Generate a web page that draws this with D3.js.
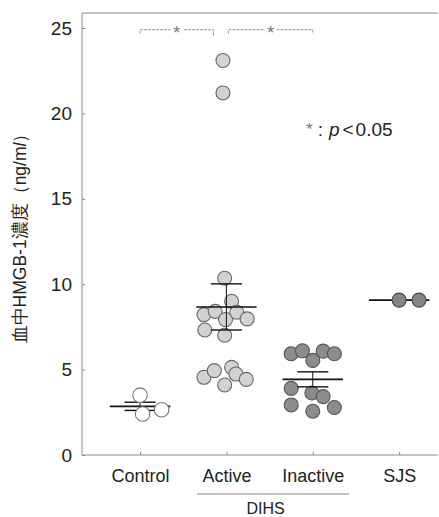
<!DOCTYPE html>
<html>
<head>
<meta charset="utf-8">
<script src="https://cdn.jsdelivr.net/npm/d3@7"></script>
<style>
  html, body { margin: 0; padding: 0; background: #fff; }
  svg { display: block; }
  text { font-family: "Liberation Sans", Arial, sans-serif; }
</style>
</head>
<body>
<div id="chart"></div>
<script>
// ---- data ----
const categories = ["Control", "Active", "Inactive", "SJS"];
const yTicks = [0, 5, 10, 15, 20, 25];
// each point: [jitter offset in category units, value ng/ml]
const controlPoints = [[0.00, 3.50], [0.03, 2.40], [0.25, 2.65]];
const activePoints = [
  [-0.04, 23.1], [-0.04, 21.2], [-0.02, 10.35], [0.06, 9.0],
  [-0.26, 8.22], [-0.13, 8.41], [-0.01, 7.93], [0.12, 8.36], [0.24, 7.97],
  [-0.25, 7.32], [-0.02, 7.01],
  [-0.26, 4.55], [-0.14, 4.94], [0.06, 5.13], [0.11, 4.74], [0.23, 4.43], [-0.02, 4.10]
];
const inactivePoints = [
  [-0.25, 5.93], [-0.12, 6.10], [0.00, 5.54], [0.12, 6.08], [0.25, 5.93],
  [-0.25, 3.90], [-0.01, 3.63], [0.12, 3.42],
  [-0.25, 2.93], [0.00, 2.56], [0.25, 2.78]
];
const sjsPoints = [[0.00, 9.07], [0.23, 9.07]];
const means = [2.85, 8.67, 4.43, 9.07];
const sems  = [0.24, 1.35, 0.44, 0];
const comparisons = [["Control", "Active"], ["Active", "Inactive"]];
const groupLabel = "DIHS";
const groupMembers = ["Active", "Inactive"];
const yTitle = "血中HMGB-1濃度（ng/m";
const note = "p";

// ---- layout ----
const W = 439, H = 517;
const svg = d3.select("#chart").append("svg").attr("width", W).attr("height", H);
const mL = 82, mR = 438, mT = 13, mB = 455;

const x = d3.scaleLinear().domain([-0.672, 3.45]).range([mL, mR]);
const y = d3.scaleLinear().domain([0, 25.88]).range([mB, mT]);
const catX = c => x(categories.indexOf(c));

const axisColor = "#8a8a8a";

// frame: top line
svg.append("line").attr("x1", mL).attr("x2", mR).attr("y1", mT).attr("y2", mT)
  .attr("stroke", axisColor).attr("stroke-width", 1);

// y axis
const yAxis = svg.append("g").attr("transform", `translate(${mL},0)`)
  .call(d3.axisLeft(y).tickValues(yTicks).tickSize(-3).tickPadding(10).tickFormat(d3.format("d")));
yAxis.select(".domain").attr("stroke", axisColor).attr("d", `M0,${mB}V${mT}`);
yAxis.selectAll(".tick line").attr("stroke", axisColor);
yAxis.selectAll(".tick text").attr("font-size", 19).attr("fill", "#222")
  .attr("font-family", "Liberation Sans, Arial, sans-serif");

// x axis
const xAxis = svg.append("g").attr("transform", `translate(0,${mB})`)
  .call(d3.axisBottom(x).tickValues(categories.map((c, i) => i)).tickSize(-3).tickPadding(14)
    .tickFormat(i => categories[i]));
xAxis.select(".domain").attr("stroke", axisColor).attr("d", `M${mL},0H${mR}`);
xAxis.selectAll(".tick line").attr("stroke", axisColor);
xAxis.selectAll(".tick text").attr("font-size", 18).attr("fill", "#222")
  .attr("font-family", "Liberation Sans, Arial, sans-serif");

// group underline + label
const unit = x(1) - x(0);
const gx0 = catX(groupMembers[0]) - 0.34 * unit;
const gx1 = catX(groupMembers[1]) + 0.42 * unit;
svg.append("line").attr("x1", gx0).attr("x2", gx1).attr("y1", 494).attr("y2", 494)
  .attr("stroke", "#888").attr("stroke-width", 1);
svg.append("text").attr("x", (catX(groupMembers[0]) + catX(groupMembers[1])) / 2 - 4).attr("y", 514)
  .attr("text-anchor", "middle").attr("font-size", 16).attr("fill", "#222").text(groupLabel);

// y title
const yt = svg.append("text")
  .attr("transform", `translate(26,${(mT + mB) / 2}) rotate(-90)`)
  .attr("text-anchor", "middle")
  .attr("font-family", "'Noto Sans CJK JP', sans-serif")
  .attr("font-size", 17.5).attr("fill", "#222");
yt.append("tspan").text(yTitle);
yt.append("tspan").attr("font-style", "italic").text("l");
yt.append("tspan").text("）");

// mean / SEM markers
function drawSummary(g, i) {
  const cx = x(i), m = means[i], s = sems[i];
  g.append("line").attr("x1", cx - 0.35 * unit).attr("x2", cx + 0.35 * unit)
    .attr("y1", y(m)).attr("y2", y(m)).attr("stroke", "#111").attr("stroke-width", 1.6);
  if (s > 0) {
    [m - s, m + s].forEach(v => {
      g.append("line").attr("x1", cx - 0.18 * unit).attr("x2", cx + 0.18 * unit)
        .attr("y1", y(v)).attr("y2", y(v)).attr("stroke", "#111").attr("stroke-width", 1.4);
    });
    g.append("line").attr("x1", cx).attr("x2", cx).attr("y1", y(m - s)).attr("y2", y(m + s))
      .attr("stroke", "#111").attr("stroke-width", 1);
  }
}
function drawPoints(g, pts, i, r, fill, stroke) {
  g.selectAll("circle.p" + i).data(pts).join("circle")
    .attr("class", "p" + i)
    .attr("cx", d => x(i + d[0])).attr("cy", d => y(d[1])).attr("r", r)
    .attr("fill", fill).attr("stroke", stroke).attr("stroke-width", 1.1);
}

const gC = svg.append("g");
drawSummary(gC, 0);
drawPoints(gC, controlPoints, 0, 7.3, "#fff", "#777");

const gA = svg.append("g");
drawPoints(gA, activePoints, 1, 7, "#d2d2d2", "#666");
drawSummary(gA, 1);

const gI = svg.append("g");
drawPoints(gI, inactivePoints, 2, 7, "#8c8c8c", "#555");
drawSummary(gI, 2);

const gS = svg.append("g");
drawSummary(gS, 3);
drawPoints(gS, sjsPoints, 3, 7, "#858585", "#444");

// significance brackets
const bracketY = y(24.9);
comparisons.forEach((pair, k) => {
  const xa = catX(pair[0]) + (k === 0 ? 0 : 2);
  const xb = catX(pair[1]) - (k === 0 ? 13 : 0);
  const g = svg.append("g").attr("stroke", "#8a8a8a").attr("stroke-width", 0.9).attr("fill", "none")
    .attr("stroke-dasharray", "3,1");
  g.append("path").attr("d", `M${xa},${bracketY + 4}V${bracketY}H${xb}V${bracketY + (k === 0 ? 6 : 4)}`);
  svg.append("rect").attr("x", (xa + xb) / 2 - 6).attr("y", bracketY - 5).attr("width", 12).attr("height", 10).attr("fill", "#fff");
  svg.append("text").attr("x", (xa + xb) / 2).attr("y", bracketY + 9)
    .attr("text-anchor", "middle").attr("font-size", 19).attr("fill", "#777").text("*");
});

// note
const nt = svg.append("text").attr("x", 306).attr("y", 136).attr("font-size", 19).attr("fill", "#222");
nt.append("tspan").attr("fill", "#777").attr("font-size", 17).attr("dy", -1).text("*");
nt.append("tspan").attr("dy", 1).attr("dx", 5).text(":");
nt.append("tspan").attr("dx", 6).attr("font-style", "italic").text(note);
nt.append("tspan").attr("dx", 3).text("<");
nt.append("tspan").attr("dx", 2).text("0.05");
</script>
</body>
</html>
